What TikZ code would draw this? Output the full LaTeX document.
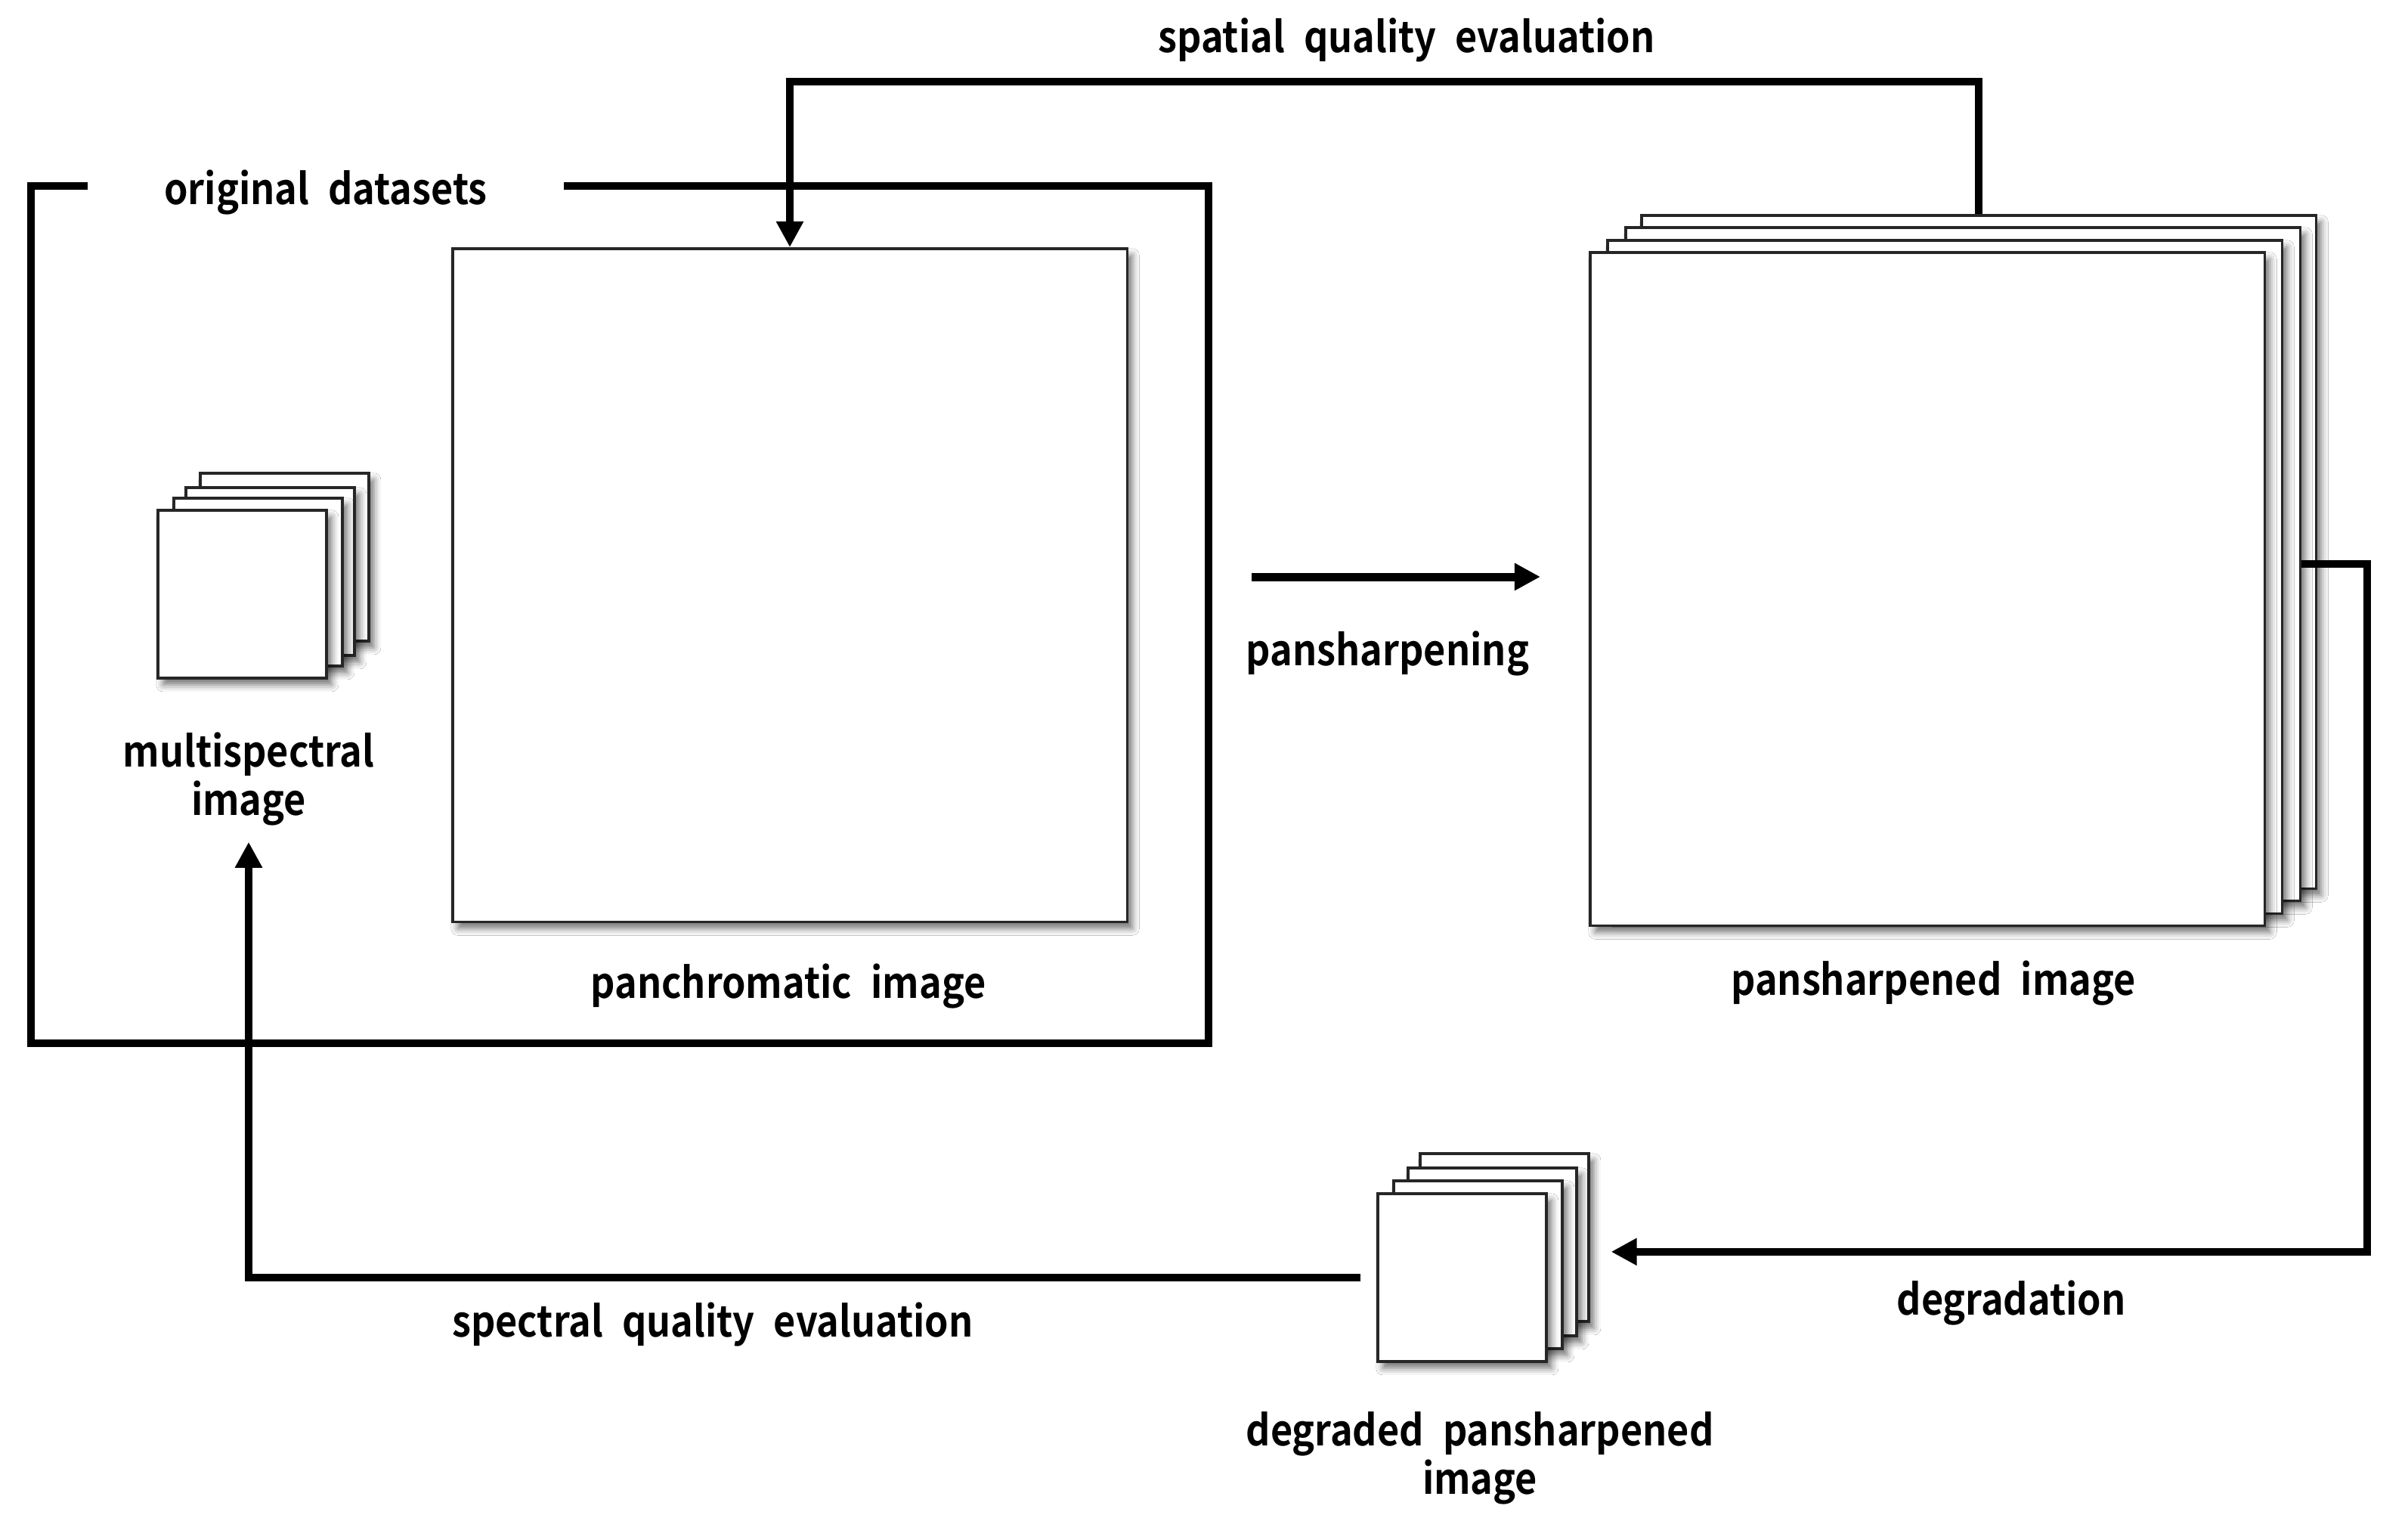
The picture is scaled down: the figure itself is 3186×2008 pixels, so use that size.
\documentclass[tikz,border=0pt]{standalone}
\usepackage{fontspec}
\newfontfamily\lblfont{Noto Sans CJK KR Bold}[WordSpace=2.2,FakeStretch=0.895]
\usetikzlibrary{arrows.meta,shadows.blur}
\begin{document}
\begin{tikzpicture}[x=0.01cm,y=-0.01cm,
  img/.style={draw=black!85, line width=0.035cm, fill=white, inner sep=0pt, anchor=north west,
    blur shadow={shadow xshift=0.07cm, shadow yshift=-0.09cm, shadow blur radius=0.09cm, shadow opacity=55}},
  small/.style={img, minimum width=2.23cm, minimum height=2.22cm},
  big/.style={img, minimum width=8.92cm, minimum height=8.90cm},
  flow/.style={line width=0.1cm, draw=black, line join=miter},
  tip/.style={-{Triangle[length=0.34cm,width=0.34cm]}},
  lbl/.style={font=\lblfont\fontsize{16}{18.2}\selectfont, inner sep=0pt, align=center},
]
\fill[white] (0,0) rectangle (3186,2008);
\useasboundingbox (0,0) rectangle (3186,2008);

% original datasets frame
\draw[flow] (116,246) -- (41,246) -- (41,1380) -- (1599,1380) -- (1599,246) -- (746,246);
\node[lbl, anchor=base] (odlbl) at (431,270) {original datasets};

% multispectral stack
\node[small] (ms4) at (263,624) {};
\node[small] (ms3) at (244,643) {};
\node[small] (ms2) at (228,657) {};
\node[small] (ms1) at (207,673) {};
\node[lbl, anchor=north] (mslbl) at (329,968) {multispectral\\image};

% panchromatic image
\node[big] (pan) at (597,327) {};
\node[lbl, anchor=base] (panlbl) at (1043,1320) {panchromatic image};

% pansharpened stack
\node[big] (ps4) at (2170,283) {};
\node[big] (ps3) at (2149,299) {};
\node[big] (ps2) at (2125,316) {};
\node[big] (ps1) at (2102,332) {};
\node[lbl, anchor=base] (pslbl) at (2558,1316) {pansharpened image};

% degraded stack
\node[small] (dg4) at (1877,1524) {};
\node[small] (dg3) at (1861,1543) {};
\node[small] (dg2) at (1842,1560) {};
\node[small] (dg1) at (1821,1577) {};
\node[lbl, anchor=north] (dglbl) at (1958,1867) {degraded pansharpened\\image};

% pansharpening arrow
\coordinate (pa) at (1656,763);
\coordinate (pb) at (2038,763);
\draw[flow, line width=0.11cm, tip] (pa) -- (pb);
\node[lbl, anchor=base] (pshlbl) at (1836,880) {pansharpening};

% spatial quality evaluation
\draw[flow, tip] (ps4.north) -- ++(0,-175) -| (pan.north);
\node[lbl, anchor=base] (splbl) at (1861,69) {spatial quality evaluation};

% degradation
\draw[flow, tip] (ps3.east) -- ++(87,0) |- ([xshift=0.44cm]dg3.east);
\node[lbl, anchor=base] (deglbl) at (2661,1739) {degradation};

% spectral quality evaluation
\draw[flow, tip] ([xshift=-0.21cm]dg1.west) -| ([yshift=-0.21cm]mslbl.south);
\node[lbl, anchor=base] (speclbl) at (943,1768) {spectral quality evaluation};
\end{tikzpicture}
\end{document}
